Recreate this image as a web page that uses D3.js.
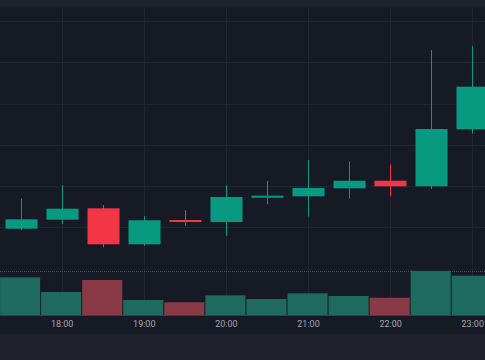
<!DOCTYPE html>
<html>
<head>
<meta charset="utf-8">
<script src="https://cdn.jsdelivr.net/npm/d3@7"></script>
<style>
  html, body { margin: 0; padding: 0; background: #161a25; }
  svg { display: block; }
</style>
</head>
<body>
<svg id="chart" width="485" height="360"></svg>
<script>
// ---- data ----
const times  = ["17:30","18:00","18:30","19:00","19:30","20:00","20:30","21:00","21:30","22:00","22:30","23:00"];
const opens  = [99.66, 101.84, 104.60, 95.88, 101.77, 101.28, 107.17, 107.51, 109.45, 111.29, 109.94, 123.75];
const highs  = [106.98, 110.25, 105.40, 102.74, 104.19, 110.18, 111.22, 116.31, 116.00, 115.27, 142.97, 144.01];
const lows   = [99.35, 100.80, 95.15, 95.47, 100.32, 97.90, 105.57, 102.57, 106.93, 107.51, 109.28, 122.69];
const closes = [101.94, 104.51, 95.88, 101.70, 101.28, 107.34, 107.66, 109.52, 111.29, 109.94, 123.82, 134.08];
const volumes = [3770, 2300, 3500, 1500, 1270, 1970, 1600, 2170, 1900, 1730, 4420, 3930];
const priceTicks = [100, 110, 120, 130, 140, 150];
const timeTicks = ["18:00","19:00","20:00","21:00","22:00","23:00"];
const volumeLine = 4370;

// ---- setup ----
const W = 485, H = 360;
const svg = d3.select("#chart");
const parse = d3.timeParse("%Y-%m-%d %H:%M");
const toDate = t => parse("2024-01-01 " + t);
const data = times.map((t, i) => ({
  t: toDate(t), o: opens[i], h: highs[i], l: lows[i], c: closes[i], v: volumes[i]
}));

const pxPerHour = 82.12;
const x = d3.scaleTime()
  .domain([toDate("17:30"), toDate("23:00")])
  .range([20.6, 20.6 + 5.5 * pxPerHour]);
const y = d3.scaleLinear().domain([100, 150]).range([227.3, 21]);
const yv = d3.scaleLinear().domain([0, 4400]).range([315, 271]);

const UP = "#089981", DOWN = "#f23645";
const VUP = "#1e6a5e", VDOWN = "#8a3a47";

// backgrounds
svg.append("rect").attr("x", 0).attr("y", 0).attr("width", W).attr("height", H).attr("fill", "#161a25");
svg.append("rect").attr("x", 0).attr("y", 0).attr("width", W).attr("height", 7.5).attr("fill", "#1f222d");
svg.append("rect").attr("x", 0).attr("y", 334).attr("width", W).attr("height", H - 334).attr("fill", "#1f222d");

// grid
const grid = svg.append("g").attr("stroke", "#22252f").attr("stroke-width", 1);
grid.selectAll("line.h").data(priceTicks).join("line")
  .attr("x1", 0).attr("x2", W)
  .attr("y1", d => Math.round(y(d)) + 0.5).attr("y2", d => Math.round(y(d)) + 0.5);
grid.selectAll("line.v").data(timeTicks.map(toDate)).join("line")
  .attr("x1", d => Math.round(x(d)) + 0.5).attr("x2", d => Math.round(x(d)) + 0.5)
  .attr("y1", 7.5).attr("y2", 315);

// volume bars
const step = pxPerHour / 2;
const vbw = step - 1;
svg.append("g").selectAll("rect").data(data).join("rect")
  .attr("x", d => x(d.t) - step / 2)
  .attr("width", vbw)
  .attr("y", d => yv(d.v))
  .attr("height", d => yv(0) - yv(d.v))
  .attr("fill", d => d.c >= d.o ? VUP : VDOWN);

// dotted line
svg.append("line")
  .attr("x1", 0).attr("x2", W)
  .attr("y1", Math.round(yv(volumeLine)) + 0.5).attr("y2", Math.round(yv(volumeLine)) + 0.5)
  .attr("stroke", "#8e2f52").attr("stroke-width", 1).attr("stroke-dasharray", "1,1");

// candles
const bw = 32;
const candles = svg.append("g").selectAll("g").data(data).join("g");
candles.append("line")
  .attr("x1", d => Math.round(x(d.t)) + 0.5).attr("x2", d => Math.round(x(d.t)) + 0.5)
  .attr("y1", d => y(d.h)).attr("y2", d => y(d.l))
  .attr("stroke", d => d.c >= d.o ? UP : DOWN).attr("stroke-width", 1);
candles.append("rect")
  .attr("x", d => Math.round(x(d.t)) + 0.5 - bw / 2)
  .attr("width", bw)
  .attr("y", d => y(Math.max(d.o, d.c)))
  .attr("height", d => Math.max(1.5, Math.abs(y(d.o) - y(d.c))))
  .attr("fill", d => d.c >= d.o ? UP : DOWN);

// time axis
svg.append("line").attr("x1", 0).attr("x2", W).attr("y1", 315.5).attr("y2", 315.5)
  .attr("stroke", "#3a3e4a").attr("stroke-width", 1);
const axis = d3.axisBottom(x)
  .tickValues(timeTicks.map(toDate))
  .tickFormat(d3.timeFormat("%H:%M"))
  .tickSize(0).tickPadding(0);
const ga = svg.append("g").attr("transform", "translate(0,321)").call(axis);
ga.select(".domain").remove();
ga.selectAll("text")
  .attr("fill", "#a3a6af")
  .attr("font-family", "Roboto, 'Liberation Sans', sans-serif")
  .attr("font-size", "9px")
  .attr("dy", "0.71em");
</script>
</body>
</html>
